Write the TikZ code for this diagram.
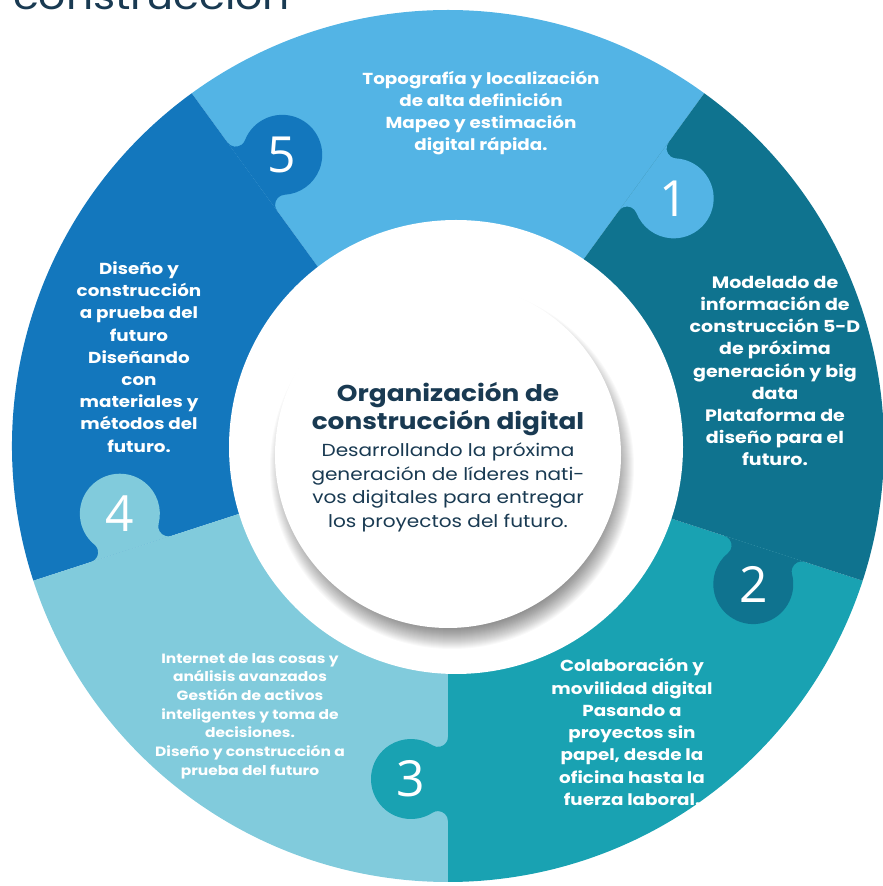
\documentclass[tikz,border=0pt]{standalone}
\usepackage{fontspec}
\setmainfont{Poppins}[FakeStretch=1.15]
\newfontfamily\numfont{Open Sans}
\definecolor{ctop}{HTML}{53B4E5}
\definecolor{cleft}{HTML}{1377BD}
\definecolor{cll}{HTML}{81CBDC}
\definecolor{clr}{HTML}{19A2B2}
\definecolor{cright}{HTML}{0F738F}
\definecolor{navy}{HTML}{193A52}
\tikzset{
  segtext/.style={text=white, align=center, inner sep=0pt, font=\fontsize{16}{22.3}\selectfont\bfseries},
  smalltext/.style={text=white, align=center, inner sep=0pt, font=\fontsize{13.5}{18.7}\selectfont\bfseries},
  numtext/.style={text=white, inner sep=0pt, font=\numfont\fontsize{50}{50}\selectfont},
}
\begin{document}
\begin{tikzpicture}[x=1bp,y=1bp]
\useasboundingbox (0,0) rectangle (883,886);
% cut-off heading
\node[anchor=base west, inner sep=0pt, text=navy, font=\fontsize{37}{37}\selectfont] (head) at (13,876) {construcción};
\coordinate (C) at (448,440);
% ring pieces
\foreach \a/\col in {54/ctop,126/cleft,198/cll,270/clr,342/cright}{
  \fill[\col] (C) -- ++(\a:436) arc[start angle=\a, delta angle=72, radius=436] -- cycle;
}
% knobs
\foreach \a/\col/\n in {54/ctop/1,342/cright/2,270/clr/3,198/cll/4,126/cleft/5}{
  \begin{scope}[shift={(C)}, rotate=\a, shift={(333,0)}, rotate=-90]
    \fill[\col] (0,42.08) arc[start angle=180, end angle=302.69, radius=10]
      arc[start angle=122.69, end angle=-122.69, radius=40]
      arc[start angle=57.31, end angle=180, radius=10] -- cycle;
    \node[numtext] (n\n) at (37,0) {\n};
  \end{scope}
}
% white centre
\fill[white] (456,439) circle (227);
% soft shadow
\foreach \i in {0,...,24}{
  \fill[black, opacity=0.025] (452,419) circle ({158+\i});
}
\fill[white] (448,431) circle (173);
% segment texts
\node[segtext] (t1) at (481,773) {Topografía y localización\\de alta definición\\Mapeo y estimación\\digital rápida.};
\node[segtext, font=\fontsize{16.6}{22.3}\selectfont\bfseries] (t2) at (775,515) {Modelado de\\información de\\construcción 5-D\\de próxima\\generación y big\\data\\Plataforma de\\diseño para el\\futuro.};
\node[segtext] (t5) at (139,529) {Diseño y\\construcción\\a prueba del\\futuro\\Diseñando\\con\\materiales y\\métodos del\\futuro.};
\node[smalltext] (t4) at (250,170) {Internet de las cosas y\\análisis avanzados\\Gestión de activos\\inteligentes y toma de\\decisiones.\\Diseño y construcción a\\prueba del futuro};
\node[segtext] (t3) at (632,154) {Colaboración y\\movilidad digital\\Pasando a\\proyectos sin\\papel, desde la\\oficina hasta la\\fuerza laboral.};
% centre texts
\node[text=navy, align=center, inner sep=0pt, font=\fontsize{23}{28}\selectfont\bfseries] (ctitle) at (448,477) {Organización de\\construcción digital};
\node[text=navy, align=center, inner sep=0pt, font=\fontsize{17.5}{23.5}\selectfont] (csub) at (448,398.5) {Desarrollando la próxima\\generación de líderes nati-\\vos digitales para entregar\\los proyectos del futuro.};
\end{tikzpicture}
\end{document}
